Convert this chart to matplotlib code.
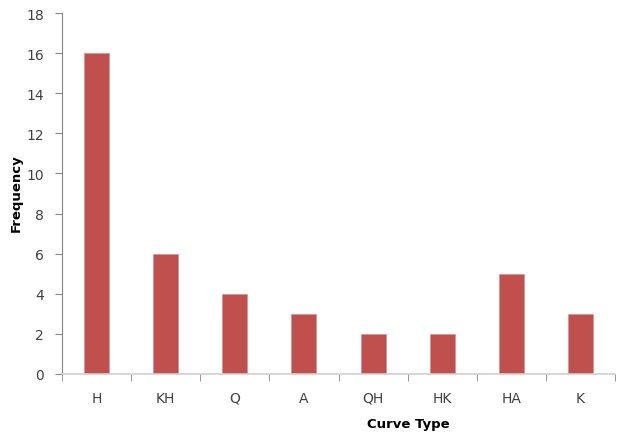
import matplotlib
matplotlib.use("Agg")
import matplotlib.pyplot as plt
import numpy as np

# curve type counts
curve_types = ["H", "KH", "Q", "A", "QH", "HK", "HA", "K"]
frequency = [16, 6, 4, 3, 2, 2, 5, 3]

bar_color = "#C0504D"
axis_color = "#868686"
text_color = "#404040"

fig = plt.figure(figsize=(6.25, 4.39), dpi=100)
ax = fig.add_axes([0.0992, 0.1458, 0.8848, 0.8222])

x = np.arange(len(curve_types))
ax.bar(x, frequency, width=0.36, color=bar_color, edgecolor="#D99694", linewidth=0.6)

ax.set_xlim(-0.5, len(curve_types) - 0.5)
ax.set_ylim(0, 18)
ax.set_yticks(np.arange(0, 19, 2))

# category labels centred, tick marks on the boundaries
ax.set_xticks(x)
ax.set_xticklabels(curve_types)
ax.set_xticks(np.arange(-0.5, len(curve_types)), minor=True)
ax.tick_params(axis="x", which="major", length=0, pad=12, labelsize=10, labelcolor=text_color)
ax.tick_params(axis="x", which="minor", length=5, color=axis_color, direction="out")
ax.tick_params(axis="y", length=5, color=axis_color, labelsize=10, labelcolor=text_color, pad=8)

for side in ["top", "right"]:
    ax.spines[side].set_visible(False)
ax.spines["left"].set_color(axis_color)
ax.spines["bottom"].set_color("#D0D0D0")
ax.spines["left"].set_linewidth(0.8)
ax.spines["bottom"].set_linewidth(1.2)

fig.text(0.026, 0.56, "Frequency", rotation=90, ha="center", va="center",
         fontsize=9.5, fontweight="bold", color="black")
fig.text(0.654, 0.032, "Curve Type", ha="center", va="center",
         fontsize=9.5, fontweight="bold", color="black")

fig.savefig("out.png", dpi=100)
